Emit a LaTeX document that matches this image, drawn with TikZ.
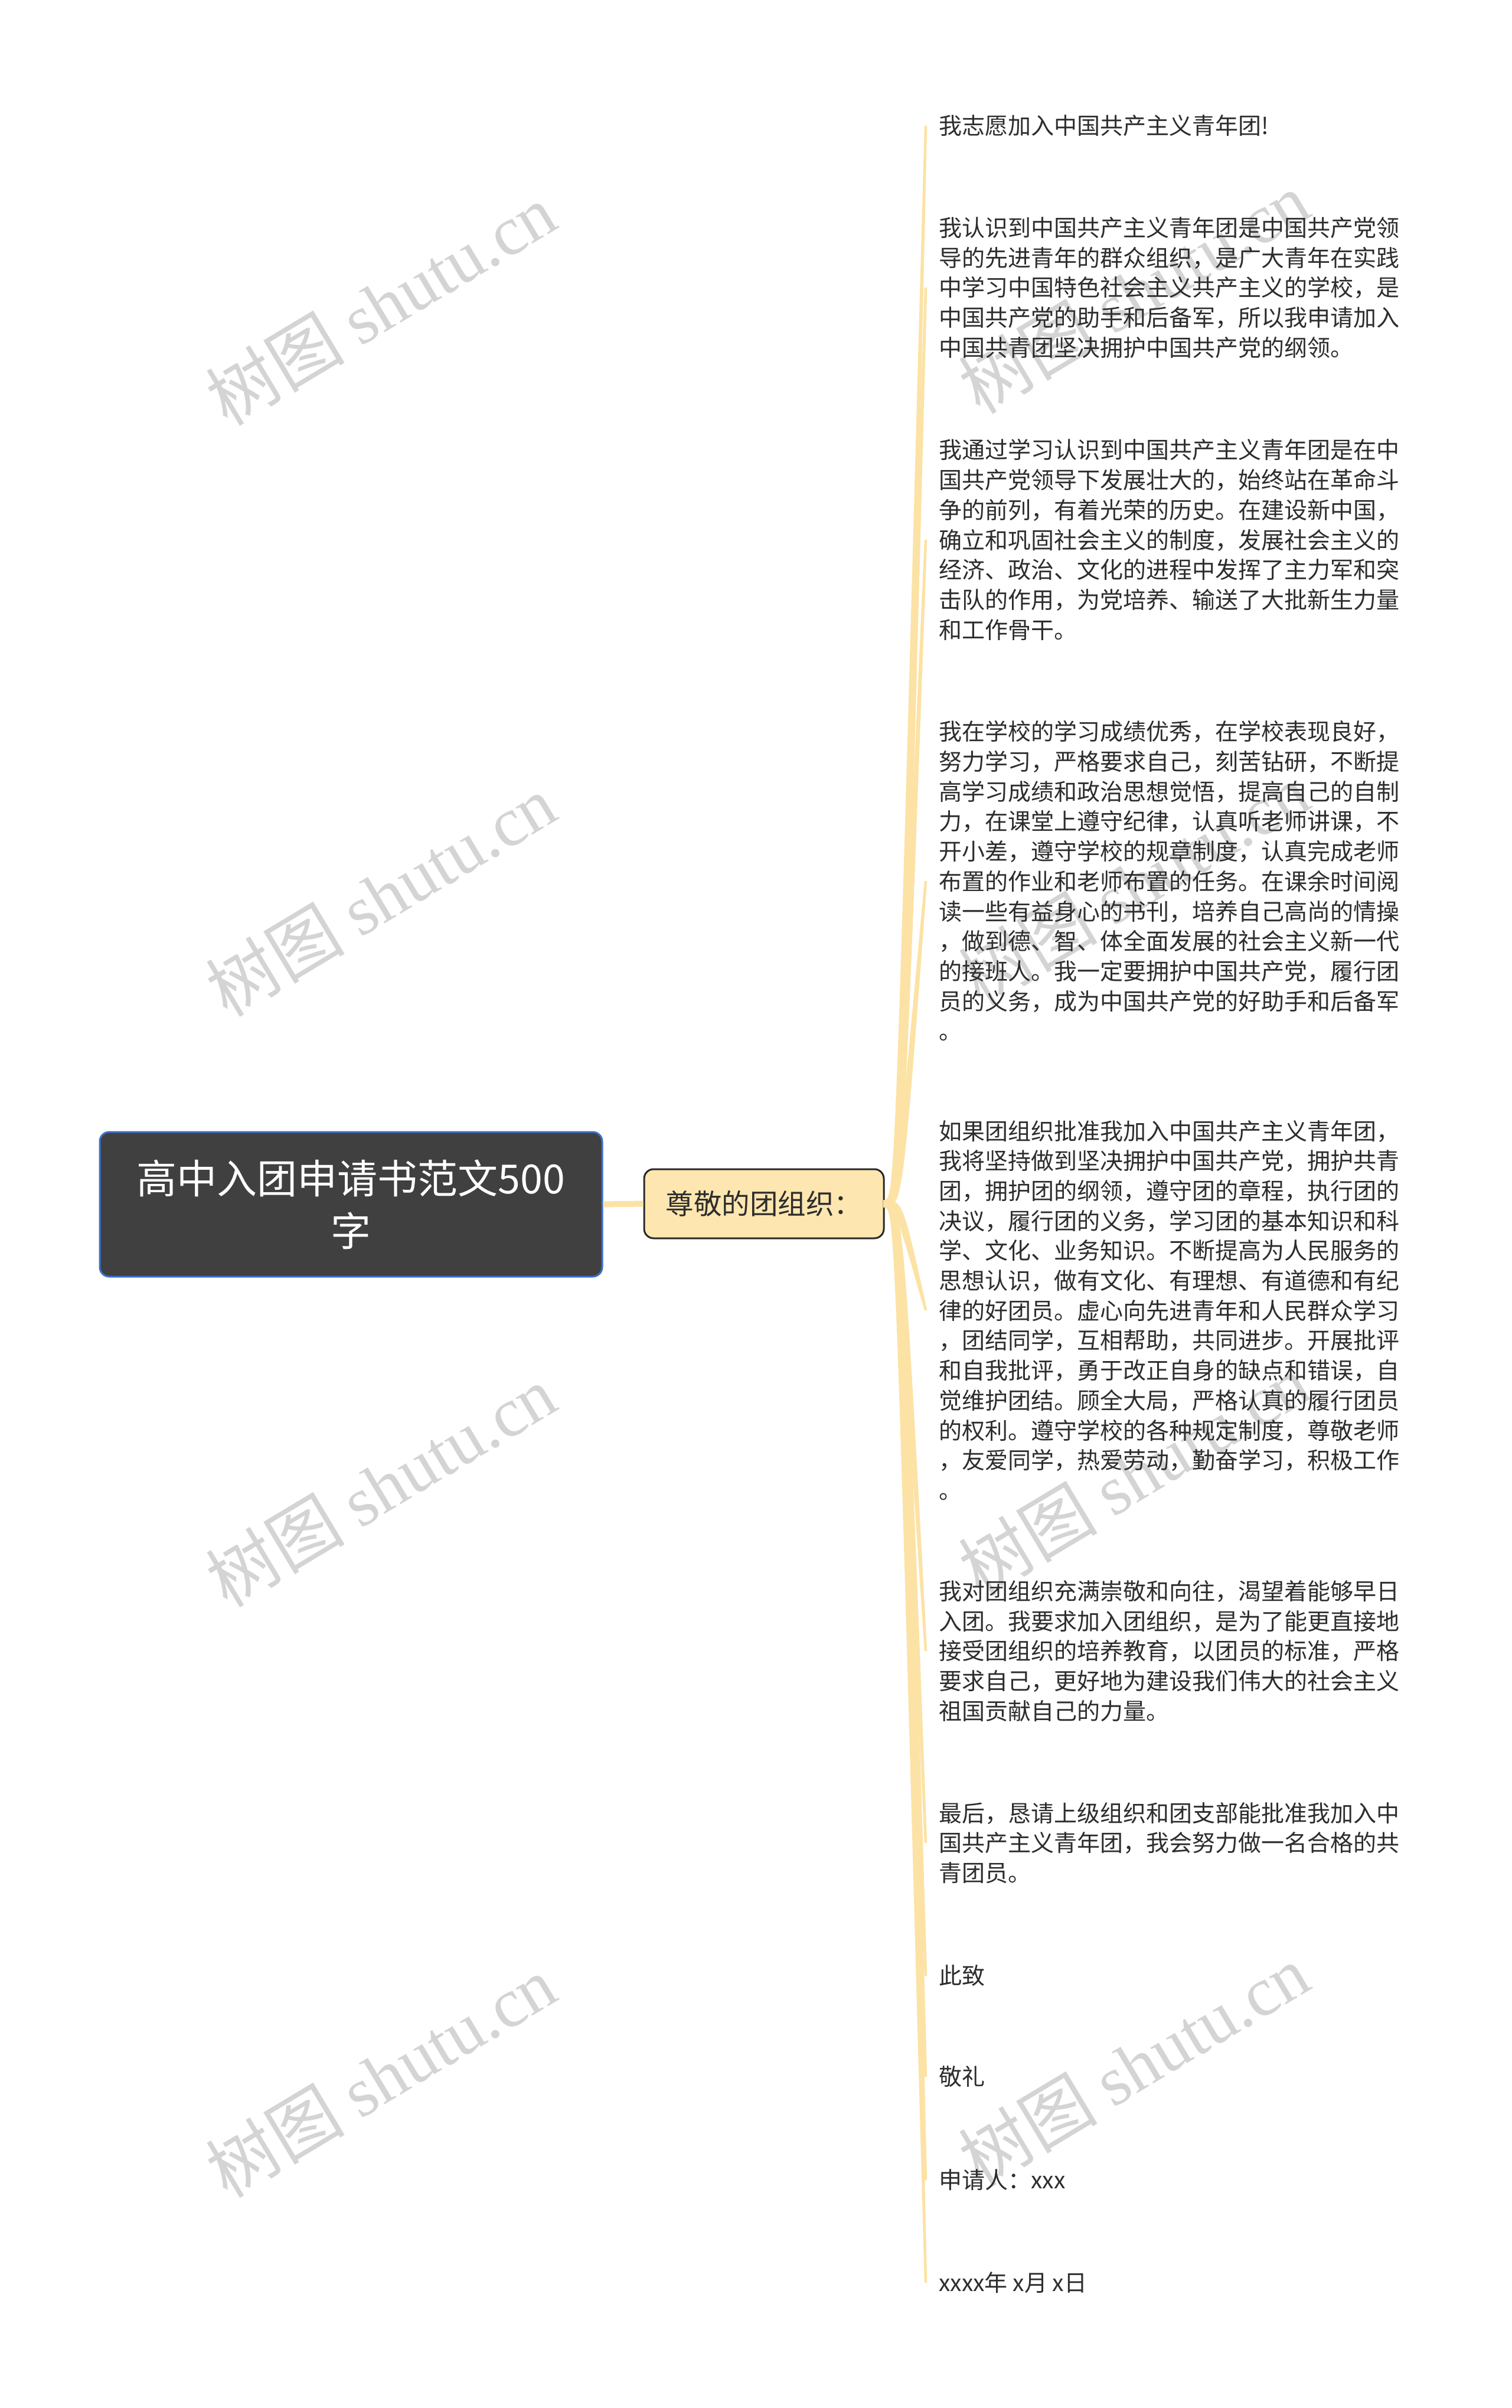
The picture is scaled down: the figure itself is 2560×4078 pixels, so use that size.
\documentclass[tikz,border=0pt]{standalone}
\usepackage{fontspec}
\setmainfont{Noto Sans CJK SC}
\newfontfamily\wmcjk{Noto Sans CJK SC}
\newfontfamily\wmlat{Liberation Serif}
\usetikzlibrary{calc}
\definecolor{rootfill}{RGB}{64,64,64}
\definecolor{rootborder}{RGB}{62,112,204}
\definecolor{midfill}{RGB}{254,230,176}
\definecolor{midborder}{RGB}{40,40,40}
\definecolor{connclr}{RGB}{252,226,164}
\definecolor{leaftext}{RGB}{45,45,45}
\definecolor{wmgray}{RGB}{212,212,212}
\begin{document}
\begin{tikzpicture}[x=1pt,y=-1pt,
  rootbox/.style={draw=rootborder, line width=3pt, fill=rootfill, rounded corners=16pt,
    text=white, align=center, inner sep=0pt, minimum width=851pt, minimum height=245pt,
    font=\fontsize{68}{89}\selectfont},
  midbox/.style={draw=midborder, line width=3pt, fill=midfill, rounded corners=16pt,
    text=leaftext, inner sep=0pt, minimum width=406pt, minimum height=117pt,
    font=\fontsize{47.5}{56}\selectfont},
  leaf/.style={anchor=west, align=left, inner sep=0pt, text=leaftext,
    font=\fontsize{39}{50.7}\selectfont},
  conn/.style={fill=connclr, draw=none},
  rootconn/.style={draw=connclr, line width=10pt},
  wm/.style={text=wmgray, rotate=31, inner sep=0pt, font=\fontsize{118}{118}\selectfont}
]
\useasboundingbox[fill=white] (0,0) rectangle (2560,4078);

% watermarks
\node[wm] (wa) at (645,515) {{\wmcjk 树图} {\wmlat shutu.cn}};
\node[wm] (wb) at (645,1516) {{\wmcjk 树图} {\wmlat shutu.cn}};
\node[wm] (wc) at (645,2516) {{\wmcjk 树图} {\wmlat shutu.cn}};
\node[wm] (wd) at (645,3516) {{\wmcjk 树图} {\wmlat shutu.cn}};
\node[wm] (we) at (1920,495) {{\wmcjk 树图} {\wmlat shutu.cn}};
\node[wm] (wf) at (1920,1497) {{\wmcjk 树图} {\wmlat shutu.cn}};
\node[wm] (wg) at (1920,2497) {{\wmcjk 树图} {\wmlat shutu.cn}};
\node[wm] (wh) at (1920,3497) {{\wmcjk 树图} {\wmlat shutu.cn}};

% main nodes
\node[rootbox] (root) at (594.5,2039.5) {高中入团申请书范文500\\字};
\node[midbox] (mid) at (1294,2038.5) {尊敬的团组织：};

% leaves
\node[leaf] (l1) at (1590,213) {我志愿加入中国共产主义青年团!};
\node[leaf] (l2) at (1590,487) {我认识到中国共产主义青年团是中国共产党领\\导的先进青年的群众组织，是广大青年在实践\\中学习中国特色社会主义共产主义的学校，是\\中国共产党的助手和后备军，所以我申请加入\\中国共青团坚决拥护中国共产党的纲领。};
\node[leaf] (l3) at (1590,914) {我通过学习认识到中国共产主义青年团是在中\\国共产党领导下发展壮大的，始终站在革命斗\\争的前列，有着光荣的历史。在建设新中国，\\确立和巩固社会主义的制度，发展社会主义的\\经济、政治、文化的进程中发挥了主力军和突\\击队的作用，为党培养、输送了大批新生力量\\和工作骨干。};
\node[leaf] (l4) at (1590,1492) {我在学校的学习成绩优秀，在学校表现良好，\\努力学习，严格要求自己，刻苦钻研，不断提\\高学习成绩和政治思想觉悟，提高自己的自制\\力，在课堂上遵守纪律，认真听老师讲课，不\\开小差，遵守学校的规章制度，认真完成老师\\布置的作业和老师布置的任务。在课余时间阅\\读一些有益身心的书刊，培养自己高尚的情操\\，做到德、智、体全面发展的社会主义新一代\\的接班人。我一定要拥护中国共产党，履行团\\员的义务，成为中国共产党的好助手和后备军\\。};
\node[leaf] (l5) at (1590,2219) {如果团组织批准我加入中国共产主义青年团，\\我将坚持做到坚决拥护中国共产党，拥护共青\\团，拥护团的纲领，遵守团的章程，执行团的\\决议，履行团的义务，学习团的基本知识和科\\学、文化、业务知识。不断提高为人民服务的\\思想认识，做有文化、有理想、有道德和有纪\\律的好团员。虚心向先进青年和人民群众学习\\，团结同学，互相帮助，共同进步。开展批评\\和自我批评，勇于改正自身的缺点和错误，自\\觉维护团结。顾全大局，严格认真的履行团员\\的权利。遵守学校的各种规定制度，尊敬老师\\，友爱同学，热爱劳动，勤奋学习，积极工作\\。};
\node[leaf] (l6) at (1590,2796) {我对团组织充满崇敬和向往，渴望着能够早日\\入团。我要求加入团组织，是为了能更直接地\\接受团组织的培养教育，以团员的标准，严格\\要求自己，更好地为建设我们伟大的社会主义\\祖国贡献自己的力量。};
\node[leaf] (l7) at (1590,3121) {最后，恳请上级组织和团支部能批准我加入中\\国共产主义青年团，我会努力做一名合格的共\\青团员。};
\node[leaf] (l8) at (1590,3346) {此致};
\node[leaf] (l9) at (1590,3517) {敬礼};
\node[leaf] (l10) at (1590,3692) {申请人：xxx};
\node[leaf] (l11) at (1590,3866) {xxxx年 x月 x日};

% connectors (tapered)
\draw[rootconn] (root.east) -- (mid.west);
\coordinate (s0) at ($(mid.east)+(-2,0)$);
\coordinate (c0) at ($(mid.east)+(24,0)$);
\foreach \i/\sg in {1/-1,2/-1,3/-1,4/-1,5/1,6/1,7/1,8/1,9/1,10/1,11/1}{
  \coordinate (e\i) at ($(l\i.west)+(-22,0)$);
  \fill[conn] ($(s0)+(0,-6)$) .. controls ($(c0)+(\sg*6.5,-6)$) .. ($(e\i)+(\sg*2.2,0)$)
     -- ($(e\i)+(-\sg*2.2,0)$) .. controls ($(c0)+(-\sg*6.5,6)$) .. ($(s0)+(0,6)$) -- cycle;
}
\end{tikzpicture}
\end{document}
